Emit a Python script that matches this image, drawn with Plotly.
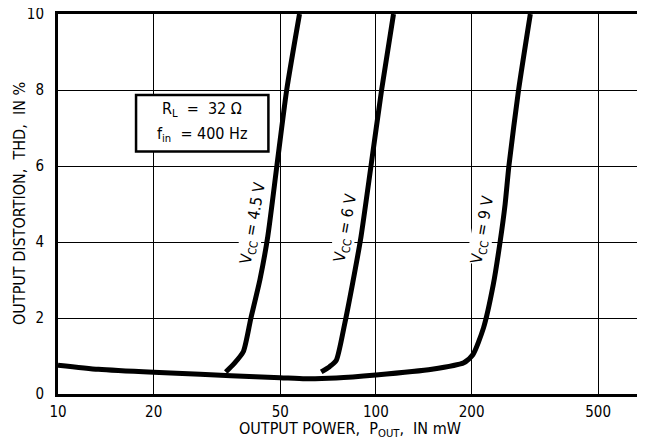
import math
import plotly.graph_objects as go

# Curvas (P em mW, THD em %)
p_45 = [33.7, 35.8, 38.3, 40.4, 43.2, 45.7, 48.8, 52.4, 57.5]
thd_45 = [0.58, 0.80, 1.12, 1.98, 3.02, 4.15, 6.0, 8.0, 10.0]

p_6 = [67.3, 71.5, 75.0, 79.6, 84.6, 89.8, 96.5, 104.2, 113.6]
thd_6 = [0.58, 0.72, 0.88, 1.81, 2.94, 4.15, 6.0, 8.0, 10.0]

p_9 = [10, 13.4, 20, 28, 35, 50, 60, 75, 100, 150, 189, 202, 218, 234, 246, 255, 262, 281, 306]
thd_9 = [0.76, 0.65, 0.57, 0.52, 0.48, 0.43, 0.40, 0.42, 0.50, 0.65, 0.82, 1.04, 1.74, 2.88, 4.02, 5.0, 6.0, 8.0, 10.0]

x_ticks = [10, 20, 50, 100, 200, 500]
y_ticks = [0, 2, 4, 6, 8, 10]

rotulos = ['V<sub>CC</sub> = 4.5 V', 'V<sub>CC</sub> = 6 V', 'V<sub>CC</sub> = 9 V']
rot_x = [41.1, 80.5, 217]
rot_y = [4.49, 4.38, 4.33]

fonte = 'Liberation Sans Narrow, DejaVu Sans Condensed, Arial Narrow, sans-serif'

fig = go.Figure()
for px_, py_ in [(p_45, thd_45), (p_6, thd_6), (p_9, thd_9)]:
    fig.add_trace(go.Scatter(x=px_, y=py_, mode='lines',
                             line=dict(color='black', width=5, shape='spline', smoothing=0.6),
                             showlegend=False, hoverinfo='skip'))

# anotacoes em eixo log usam log10
for t, x, y in zip(rotulos, rot_x, rot_y):
    fig.add_annotation(x=math.log10(x), y=y, xref='x', yref='y', text=t, showarrow=False,
                       textangle=-80, font=dict(size=16, color='black', family=fonte),
                       bgcolor='white', borderpad=0)

# caixa com as condicoes
fig.add_shape(type='rect', xref='x', yref='y', x0=17.6, x1=45.9, y0=6.38, y1=7.87,
              line=dict(color='black', width=2.5), fillcolor='white', layer='above')
fig.add_annotation(x=math.log10(28.4), y=7.5, xref='x', yref='y', showarrow=False,
                   text='R<sub>L</sub>  =  32 Ω', font=dict(size=16, color='black', family=fonte))
fig.add_annotation(x=math.log10(28.4), y=6.82, xref='x', yref='y', showarrow=False,
                   text='f<sub>in</sub>  = 400 Hz', font=dict(size=16, color='black', family=fonte))

# titulos dos eixos (deslocamento em pixels)
fig.add_annotation(x=0.5, y=0, xref='paper', yref='paper', showarrow=False, yshift=-35,
                   xanchor='center', yanchor='middle',
                   text='OUTPUT POWER,  P<sub>OUT</sub>,  IN mW', font=dict(size=16, color='black', family=fonte))
fig.add_annotation(x=0, y=0.5, xref='paper', yref='paper', showarrow=False, textangle=-90, xshift=-39,
                   xanchor='center', yanchor='middle',
                   text='OUTPUT DISTORTION,  THD,  IN %', font=dict(size=16, color='black', family=fonte))

# borda direita fina
fig.add_shape(type='line', xref='paper', yref='paper', x0=1, x1=1, y0=0, y1=1,
              line=dict(color='black', width=1.5))

fig.update_layout(
    width=645, height=443,
    margin=dict(l=50, r=11, t=6, b=57),
    plot_bgcolor='white', paper_bgcolor='white',
    font=dict(family=fonte, color='black', size=15),
)
fig.update_xaxes(type='log', range=[1, 2.837], tickvals=x_ticks, ticktext=[str(v) for v in x_ticks],
                 showgrid=True, gridcolor='black', gridwidth=1.3,
                 showline=True, linecolor='black', linewidth=3, mirror=True,
                 ticks='', ticklabelstandoff=2, automargin=False, zeroline=False,
                 ticklabeloverflow='allow')
fig.update_yaxes(range=[0, 10], tickvals=y_ticks, showgrid=True, gridcolor='black', gridwidth=1.3,
                 showline=True, linecolor='black', linewidth=3, mirror=False,
                 ticks='', ticklabelstandoff=8, automargin=False, zeroline=False,
                 ticklabeloverflow='allow')

fig.write_html('out.html')
